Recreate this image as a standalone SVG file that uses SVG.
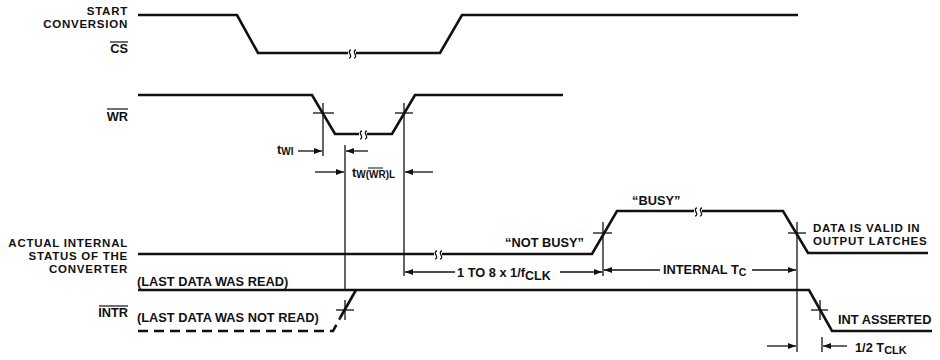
<svg xmlns="http://www.w3.org/2000/svg" width="940" height="360" viewBox="0 0 940 360">
<style>
text{font-family:"Liberation Sans",Arial,sans-serif;font-weight:bold;font-size:12.8px;fill:#111}
.lbl{text-anchor:end}
.ml{font-size:11.5px;letter-spacing:0.75px}
.wave{fill:none;stroke:#111;stroke-width:2.6;stroke-linejoin:miter}
.dash{fill:none;stroke:#111;stroke-width:2.6;stroke-dasharray:10 6}
.ref{fill:none;stroke:#111;stroke-width:1.3}
.dim{fill:none;stroke:#111;stroke-width:1.3;marker-end:url(#ah)}
.sub{font-size:10px}
</style>
<defs>
<marker id="ah" markerWidth="8" markerHeight="6" refX="8" refY="3" orient="auto" markerUnits="userSpaceOnUse">
<path d="M0,0 L8,3 L0,6 Z" fill="#111"/>
</marker>
<path id="sq" d="M-3,4 c2,0 2,-2 1,-4 c-1,-2 -1,-4 1,-4 M2,4 c2,0 2,-2 1,-4 c-1,-2 -1,-4 1,-4" fill="none" stroke="#111" stroke-width="1.3"/>
</defs>

<g id="labels">
<text class="lbl ml" x="128" y="15">START</text>
<text class="lbl ml" x="128" y="28">CONVERSION</text>
<text class="lbl" x="128" y="53">CS</text>
<line x1="110" y1="42" x2="128" y2="42" stroke="#111" stroke-width="1.2"/>
<text class="lbl" x="128" y="121">WR</text>
<line x1="107" y1="109" x2="128" y2="109" stroke="#111" stroke-width="1.2"/>
<text class="lbl ml" x="128" y="247">ACTUAL INTERNAL</text>
<text class="lbl ml" x="128" y="260">STATUS OF THE</text>
<text class="lbl ml" x="128" y="273">CONVERTER</text>
<text x="137" y="286">(LAST DATA WAS READ)</text>
<text class="lbl" x="128" y="317">INTR</text>
<line x1="99" y1="306" x2="128" y2="306" stroke="#111" stroke-width="1.2"/>
<text x="137" y="322">(LAST DATA WAS NOT READ)</text>
</g>

<g id="cs">
<path class="wave" d="M138,15 H237 L258,53 H348 M356,53 H440 L462,15 H798"/>
<use href="#sq" x="352" y="54"/>
</g>

<g id="wr">
<path class="wave" d="M138,95 H312 L335,134 H359 M367,134 H392 L415,95 H563"/>
<use href="#sq" x="363" y="135"/>
</g>

<g id="status">
<path class="wave" d="M138,254 H434 M442,254 H592 L617,211 H694 M702,211 H783 L808,253 H928"/>
<use href="#sq" x="438" y="255"/>
<use href="#sq" x="698" y="212"/>
<text x="584" y="247" text-anchor="end">“NOT BUSY”</text>
<text x="632" y="205">“BUSY”</text>
<text class="ml" x="813" y="232">DATA IS VALID IN</text>
<text class="ml" x="813" y="245">OUTPUT LATCHES</text>
</g>

<g id="intr">
<path class="wave" d="M138,290 H809 L832,331 H932"/>
<path class="dash" d="M138,331 H333 L340,318"/>
<path class="wave" d="M340,318 L356,290"/>
<text x="838" y="324">INT ASSERTED</text>
</g>

<g id="connectors">
<line class="ref" x1="323" y1="103" x2="323" y2="156"/>
<line class="ref" x1="345" y1="145" x2="345" y2="290"/>
<line class="ref" x1="404" y1="103" x2="404" y2="276"/>
<line class="ref" x1="603" y1="222" x2="603" y2="276"/>
<line class="ref" x1="797" y1="222" x2="797" y2="352"/>
<line class="ref" x1="822" y1="337" x2="822" y2="352"/>
<line class="ref" x1="313" y1="113" x2="334" y2="113"/>
<line class="ref" x1="395" y1="113" x2="413" y2="113"/>
<line class="ref" x1="593" y1="233" x2="612" y2="233"/>
<line class="ref" x1="788" y1="233" x2="806" y2="233"/>
<line class="ref" x1="336" y1="310" x2="354" y2="310"/>
<line class="ref" x1="345" y1="300" x2="345" y2="320"/>
<line class="ref" x1="811" y1="310" x2="828" y2="310"/>
<line class="ref" x1="820" y1="300" x2="820" y2="320"/>
<line class="dim" x1="298" y1="151" x2="322" y2="151"/>
<line class="dim" x1="368" y1="151" x2="346" y2="151"/>
<line class="dim" x1="315" y1="172" x2="344" y2="172"/>
<line class="dim" x1="433" y1="172" x2="405" y2="172"/>
<line class="dim" x1="455" y1="272" x2="405" y2="272"/>
<line class="dim" x1="560" y1="272" x2="602" y2="272"/>
<line class="dim" x1="660" y1="270" x2="604" y2="270"/>
<line class="dim" x1="752" y1="270" x2="796" y2="270"/>
<line class="dim" x1="767" y1="346" x2="796" y2="346"/>
<line class="dim" x1="847" y1="346" x2="823" y2="346"/>
</g>

<g id="dim-labels">
<text x="277" y="154">t<tspan class="sub" dy="1">WI</tspan></text>
<text x="352" y="177">t<tspan class="sub" dy="1">W(WR)L</tspan></text>
<line x1="368" y1="168" x2="383" y2="168" stroke="#111" stroke-width="1"/>
<text x="457" y="277" font-size="13">1 TO 8 x 1/f<tspan font-size="12.5" dy="3">CLK</tspan></text>
<text x="663" y="274" font-size="13">INTERNAL T<tspan font-size="10.5" dy="2">C</tspan></text>
<text x="855" y="352">1/2 T<tspan font-size="11" dy="2">CLK</tspan></text>
</g>
</svg>
